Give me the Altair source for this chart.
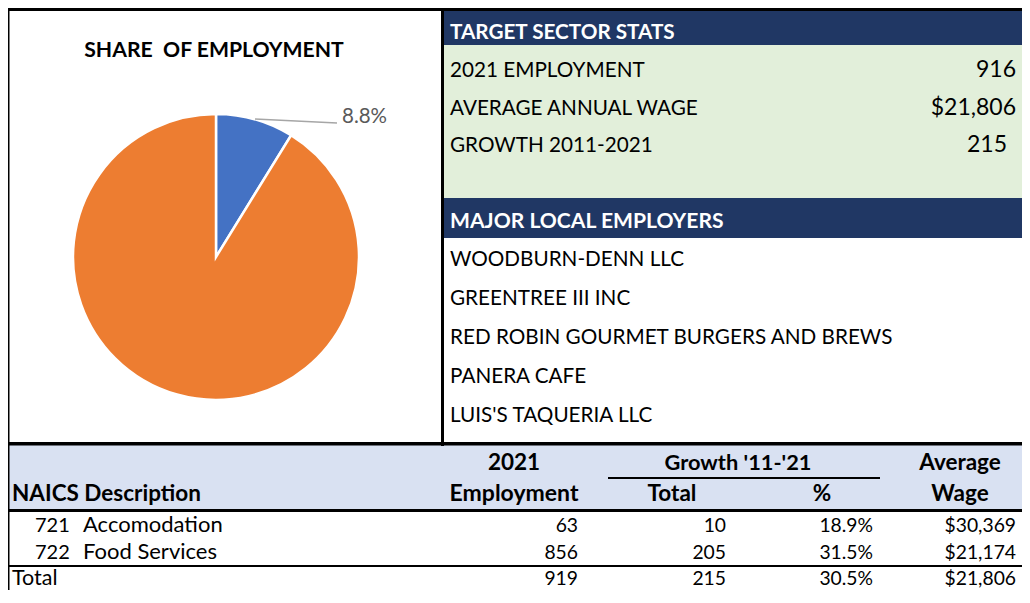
import altair as alt
import pandas as pd

# ---------------- data ----------------
pie_segments = ["Target sector", "All other industries"]
pie_shares = [8.8, 91.2]

stats_labels = ["2021 EMPLOYMENT", "AVERAGE ANNUAL WAGE", "GROWTH 2011-2021"]
stats_values = [916, 21806, 215]

employers = [
    "WOODBURN-DENN LLC",
    "GREENTREE III INC",
    "RED ROBIN GOURMET BURGERS AND BREWS",
    "PANERA CAFE",
    "LUIS'S TAQUERIA LLC",
]

naics_codes = ["721", "722"]
naics_names = ["Accomodation", "Food Services"]
employment_2021 = [63, 856]
growth_total = [10, 205]
growth_pct = [18.9, 31.5]
avg_wage = [30369, 21174]

total_employment = 919
total_growth = 215
total_growth_pct = 30.5
total_wage = 21806

# ---------------- style / layout ----------------
FONT = "Lato"
BLACK = "#000000"
WHITE = "#ffffff"
NAVY = "#203764"
GREEN = "#E2EFDA"
LIGHTBLUE = "#D9E1F2"
PIE_COLORS = ["#4472C4", "#ED7D31"]
LABEL_GRAY = "#595959"
LEADER_GRAY = "#A6A6A6"

X0, Y0 = 8, 8          # page margin
W, H = 1014, 582       # chart area in page coords 8..1022 x 8..590
XR = 1030              # right end of bands / rules (clipped at the chart edge)
xs = alt.Scale(domain=[X0, X0 + W], range=[0, W], nice=False, zero=False)
ys = alt.Scale(domain=[Y0, Y0 + H], range=[0, H], nice=False, zero=False)


def money(v):
    return "${:,}".format(v)


def pct(v):
    return "{:.1f}%".format(v)


# table row baselines (compressed slightly so the total row stays visible)
ROW_BASE = [532, 558.5]
TOTAL_BASE = 585
TOTAL_LINE = (565, 567)

# ---------------- background blocks & borders ----------------
rect_rows = [
    dict(x=444, x2=XR, y=11, y2=45, c=NAVY),          # target sector header
    dict(x=444, x2=XR, y=45, y2=198, c=GREEN),        # stats body
    dict(x=444, x2=XR, y=198, y2=238, c=NAVY),        # employers header
    dict(x=9, x2=XR, y=445, y2=509, c=LIGHTBLUE),     # table header
    dict(x=7, x2=XR, y=8, y2=11, c=BLACK),            # top border
    dict(x=7, x2=9.5, y=8, y2=603, c=BLACK),          # left border
    dict(x=441, x2=444, y=8, y2=446, c=BLACK),        # vertical divider
    dict(x=7, x2=XR, y=442, y2=445.5, c=BLACK),       # divider above table
    dict(x=7, x2=XR, y=509, y2=512, c=BLACK),         # below table header
    dict(x=7, x2=XR, y=TOTAL_LINE[0], y2=TOTAL_LINE[1], c=BLACK),  # above total
    dict(x=608, x2=880, y=477, y2=479, c=BLACK),      # growth underline
]
rect_df = pd.DataFrame(rect_rows)
rects = alt.Chart(rect_df).mark_rect(clip=True).encode(
    x=alt.X("x:Q", scale=xs, axis=None),
    x2="x2:Q",
    y=alt.Y("y:Q", scale=ys, axis=None),
    y2="y2:Q",
    color=alt.Color("c:N", scale=None, legend=None),
)

# ---------------- pie ----------------
pie_df = pd.DataFrame({
    "segment": pie_segments,
    "share": pie_shares,
    "order": list(range(len(pie_segments))),
    "c": PIE_COLORS,
})
pie = alt.Chart(pie_df).mark_arc(radius=143, stroke="white", strokeWidth=2.5).encode(
    theta=alt.Theta("share:Q", stack=True),
    order=alt.Order("order:Q"),
    color=alt.Color("c:N", scale=None, legend=None),
    x=alt.value(216 - X0),
    y=alt.value(257 - Y0),
)

leader_df = pd.DataFrame([dict(x=255, y=119, x2=337, y2=123)])
leader = alt.Chart(leader_df).mark_rule(color=LEADER_GRAY, strokeWidth=1.5).encode(
    x=alt.X("x:Q", scale=xs, axis=None),
    y=alt.Y("y:Q", scale=ys, axis=None),
    x2="x2:Q",
    y2="y2:Q",
)

# ---------------- texts ----------------
LBL = 20.7     # stats / employer labels
NAME = 22      # table row names
NUM = 19.3     # table numbers
STATNUM = 23
HB = 22.5      # bold table headers
left_normal, left_bold, center_bold, right_normal = [], [], [], []

# pie title and label
center_bold.append(dict(x=214, y=57, t="SHARE\u00a0 OF EMPLOYMENT", s=21.2, c=BLACK))
left_normal.append(dict(x=342, y=123, t=pct(pie_shares[0]), s=20.5, c=LABEL_GRAY))

# stats
left_bold.append(dict(x=450, y=38.5, t="TARGET SECTOR STATS", s=20.7, c=WHITE))
stat_base = [77, 114.5, 152]
stat_right = [1016, 1016, 1007]
stat_text = [str(stats_values[0]), money(stats_values[1]), str(stats_values[2])]
for lab, val, yb, xr in zip(stats_labels, stat_text, stat_base, stat_right):
    left_normal.append(dict(x=450, y=yb, t=lab, s=LBL, c=BLACK))
    right_normal.append(dict(x=xr, y=yb, t=val, s=STATNUM, c=BLACK))

# employers
left_bold.append(dict(x=450, y=227.5, t="MAJOR LOCAL EMPLOYERS", s=21.1, c=WHITE))
for i, name in enumerate(employers):
    left_normal.append(dict(x=450, y=265.5 + 39 * i, t=name, s=LBL, c=BLACK))

# table header
left_bold.append(dict(x=12, y=501, t="NAICS Description", s=HB, c=BLACK))
center_bold += [
    dict(x=514, y=470, t="2021", s=HB, c=BLACK),
    dict(x=514, y=501, t="Employment", s=23, c=BLACK),
    dict(x=738, y=470, t="Growth '11-'21", s=21.8, c=BLACK),
    dict(x=672, y=501, t="Total", s=HB, c=BLACK),
    dict(x=822, y=501, t="%", s=HB, c=BLACK),
    dict(x=960, y=470, t="Average", s=HB, c=BLACK),
    dict(x=960, y=501, t="Wage", s=HB, c=BLACK),
]

# table rows
COLS_R = [578, 726, 873, 1016]
for i in range(len(naics_codes)):
    yb = ROW_BASE[i]
    left_normal.append(dict(x=35, y=yb, t=naics_codes[i], s=20, c=BLACK))
    left_normal.append(dict(x=83, y=yb, t=naics_names[i], s=NAME, c=BLACK))
    vals = [str(employment_2021[i]), str(growth_total[i]), pct(growth_pct[i]), money(avg_wage[i])]
    for xr, v in zip(COLS_R, vals):
        right_normal.append(dict(x=xr, y=yb, t=v, s=NUM, c=BLACK))

left_normal.append(dict(x=12, y=TOTAL_BASE, t="Total", s=21.5, c=BLACK))
for xr, v in zip(COLS_R, [str(total_employment), str(total_growth), pct(total_growth_pct), money(total_wage)]):
    right_normal.append(dict(x=xr, y=TOTAL_BASE, t=v, s=NUM, c=BLACK))


def text_layer(rows, align, weight):
    return alt.Chart(pd.DataFrame(rows)).mark_text(
        align=align, baseline="alphabetic", font=FONT, fontWeight=weight
    ).encode(
        x=alt.X("x:Q", scale=xs, axis=None),
        y=alt.Y("y:Q", scale=ys, axis=None),
        text="t:N",
        size=alt.Size("s:Q", scale=None, legend=None),
        color=alt.Color("c:N", scale=None, legend=None),
    )


chart = alt.layer(
    rects,
    pie,
    leader,
    text_layer(left_normal, "left", "normal"),
    text_layer(left_bold, "left", "bold"),
    text_layer(center_bold, "center", "bold"),
    text_layer(right_normal, "right", "normal"),
).properties(
    width=W,
    height=H,
    padding=0,
    autosize=alt.AutoSizeParams(type="none"),
    background="white",
).configure_view(stroke=None)

chart.save("out.html", embed_options={"renderer": "svg", "actions": False})
